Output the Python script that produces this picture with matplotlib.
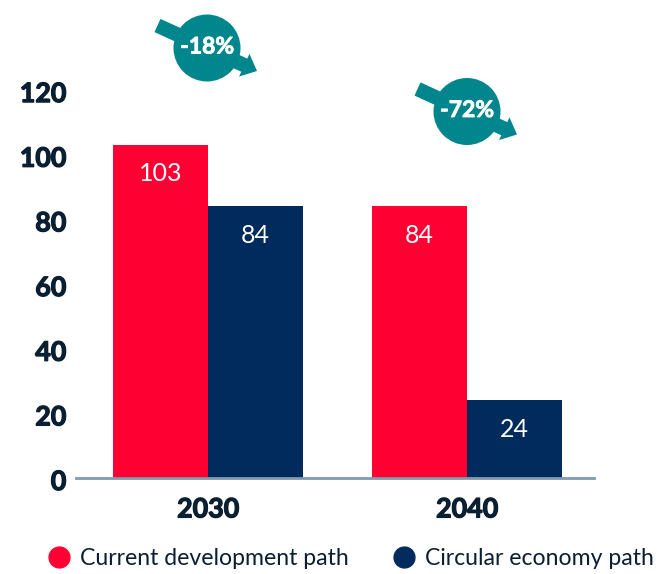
import matplotlib
matplotlib.use('Agg')
import matplotlib.pyplot as plt
import matplotlib.patheffects as pe
import numpy as np
from matplotlib.lines import Line2D
from matplotlib.patches import Circle, FancyArrow
from matplotlib.transforms import Affine2D, ScaledTranslation

# Datos
years = ['2030', '2040']
current_path = [103, 84]
circular_path = [84, 24]
y_ticks = [0, 20, 40, 60, 80, 100, 120]
changes = ['-18%', '-72%']

RED = '#FF0033'
NAVY = '#002B5C'
TEAL = '#00868C'
AXIS = '#7F9BAE'
INK = '#0B1F33'

plt.rcParams['font.family'] = ['Lato', 'DejaVu Sans']

W, H = 658, 574
fig = plt.figure(figsize=(W / 100, H / 100), dpi=100)
ax = fig.add_axes([76 / W, 1 - 478 / H, 518 / W, 388 / H])

# Barras agrupadas
x = np.arange(len(years))
bar_w = 0.367
bars1 = ax.bar(x - bar_w / 2, current_path, bar_w, color=RED)
bars2 = ax.bar(x + bar_w / 2, circular_path, bar_w, color=NAVY)
for bars in (bars1, bars2):
    ax.bar_label(bars, label_type='edge', padding=-29, color='white', fontsize=18)

ax.set_xlim(-0.51, 1.49)
ax.set_ylim(0, 120)
ax.set_xticks(x, years)
ax.set_yticks(y_ticks)
ax.tick_params(axis='x', length=0, pad=14, labelsize=19.3, labelcolor=INK)
ax.tick_params(axis='y', length=0, pad=7, labelsize=19.3, labelcolor=INK)

# Trazo extra para engrosar las etiquetas
heavy = [pe.withStroke(linewidth=0.9, foreground=INK)]
for lab in ax.get_xticklabels() + ax.get_yticklabels():
    lab.set_fontweight('bold')
    lab.set_path_effects(heavy)
shift = ScaledTranslation(0, -1.5 / 72, fig.dpi_scale_trans)
for lab in ax.get_yticklabels():
    lab.set_transform(lab.get_transform() + shift)

for side in ('top', 'right', 'left'):
    ax.spines[side].set_visible(False)
ax.spines['bottom'].set_color(AXIS)
ax.spines['bottom'].set_linewidth(2)

# Circulos con flecha, en pixeles desde la esquina superior izquierda
px = Affine2D().scale(1, -1).translate(0, H)
for label, cx, cy in zip(changes, [207, 467], [48, 111.5]):
    fig.add_artist(Circle((cx, cy), 33.5, color=TEAL, transform=px, lw=0))
    fig.add_artist(FancyArrow(cx - 49.5, cy - 22.5, 99.5, 45.5, width=14.5, head_width=25,
                              head_length=14, length_includes_head=True,
                              color=TEAL, lw=0, transform=px))
    fig.text(cx / W, 1 - (cy - 1) / H, label, color='white', fontsize=16.5,
             fontweight='bold', ha='center', va='center',
             path_effects=[pe.withStroke(linewidth=0.6, foreground='white')])

# Leyenda
handles = [Line2D([], [], ls='', marker='o', ms=15, color=RED),
           Line2D([], [], ls='', marker='o', ms=15, color=NAVY)]
fig.legend(handles, ['Current development path', 'Circular economy path'],
           loc='center left', bbox_to_anchor=(46 / W, 1 - 558.5 / H), ncol=2, frameon=False,
           fontsize=16.6, labelcolor=INK, handletextpad=0.32, columnspacing=1.83,
           borderpad=0, borderaxespad=0, handlelength=1.15)

fig.savefig('out.png', dpi=100)
